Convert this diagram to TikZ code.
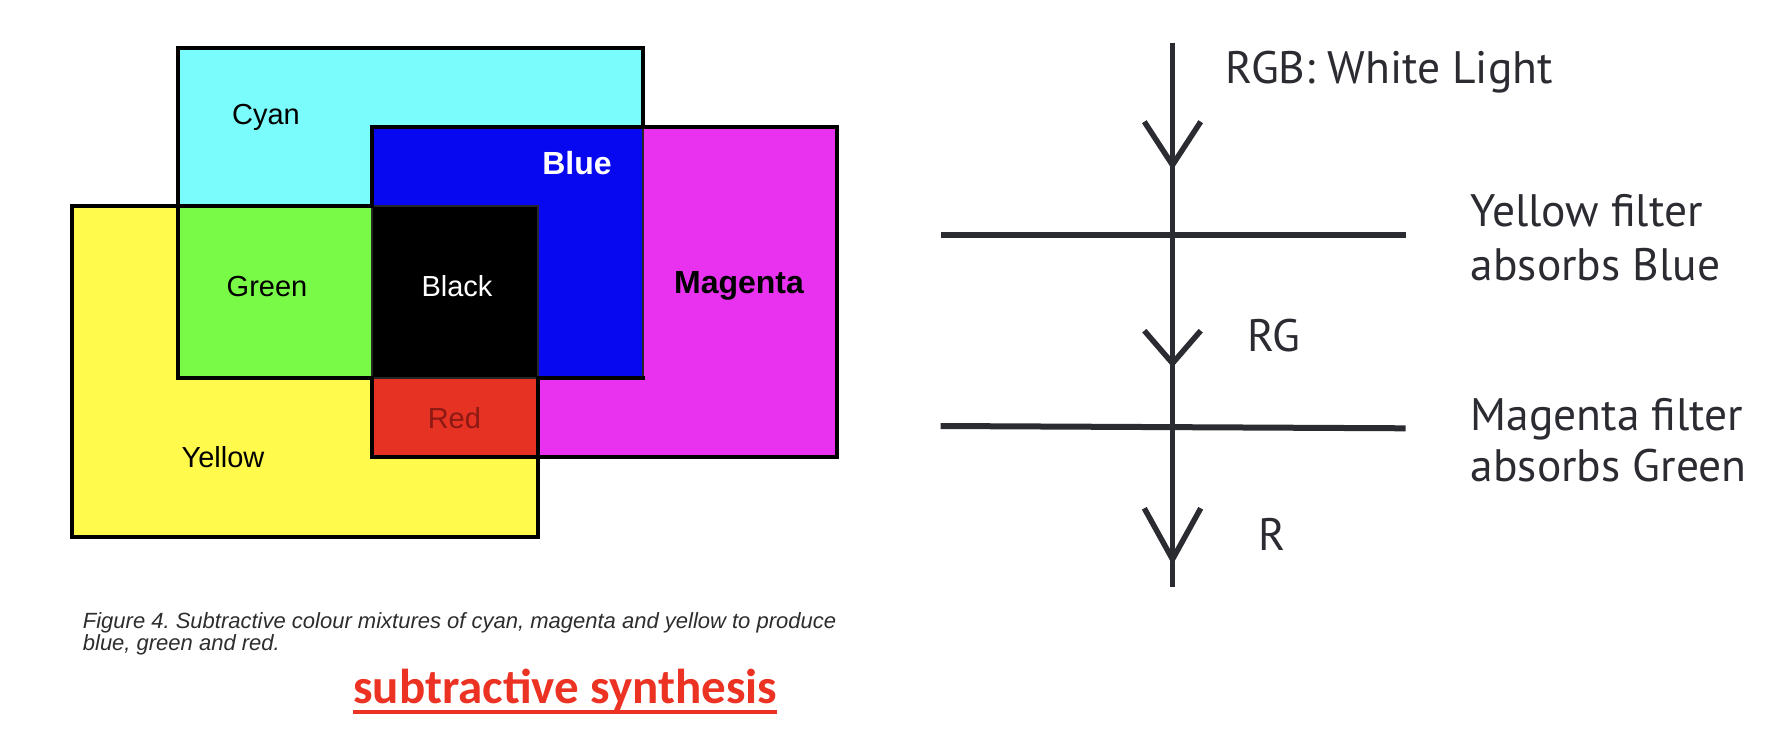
\documentclass[tikz,border=0pt]{standalone}
\usepackage{fontspec}
\setmainfont{Liberation Sans}
\newfontfamily\rfont{PT Sans}
\newfontfamily\sfont{Carlito}
\frenchspacing
\definecolor{cyanf}{RGB}{122,252,252}
\definecolor{bluef}{RGB}{8,8,240}
\definecolor{magf}{RGB}{232,50,240}
\definecolor{yelf}{RGB}{255,250,75}
\definecolor{greenf}{RGB}{120,250,70}
\definecolor{redf}{RGB}{230,50,35}
\definecolor{redtxt}{RGB}{140,25,20}
\definecolor{ink}{RGB}{43,43,50}
\definecolor{captxt}{RGB}{45,45,45}
\definecolor{subred}{RGB}{235,50,35}
\tikzset{
  thickedge/.style={draw=black,line width=4.5,line join=miter,line cap=rect},
  thinedge/.style={draw=black!85,line width=1.6},
  lbl/.style={inner sep=0,anchor=base,font=\fontsize{29}{34}\selectfont},
  blbl/.style={inner sep=0,anchor=base,font=\fontsize{32}{38}\selectfont\bfseries},
  captext/.style={inner sep=0,anchor=base west,text=captxt,font=\fontsize{22}{24}\selectfont\itshape},
  rline/.style={draw=ink,line width=5.5,line join=miter},
  rtxt/.style={inner sep=0,anchor=base west,text=ink,font=\rfont\fontsize{45.5}{50}\selectfont},
}
\begin{document}
\begin{tikzpicture}[x=1pt,y=-1pt]
\useasboundingbox (0,0) rectangle (1772,744);
% fills
\fill[cyanf] (178,48) rectangle (643,378);
\fill[magf] (372,127) rectangle (837,457);
\fill[yelf] (72,206) rectangle (538,537);
\fill[bluef] (372,127) rectangle (643,378);
\fill[greenf] (178,206) rectangle (538,378);
\fill[redf] (372,378) rectangle (538,457);
\fill[black] (372,206) rectangle (538,378);
% thin inner edges
\draw[thinedge] (372,206) rectangle (538,378);
\draw[thinedge] (643,127) -- (643,378);
% thick edges
\draw[thickedge] (643,127) -- (643,48) -- (178,48) -- (178,378) -- (372,378);
\draw[thickedge] (538,378) -- (643,378);
\draw[thickedge] (372,206) -- (372,127) -- (837,127) -- (837,457) -- (372,457) -- (372,378);
\draw[thickedge] (372,206) -- (72,206) -- (72,537) -- (538,537) -- (538,378);
% labels
\node[lbl] (lcyan) at (266,124) {Cyan};
\node[blbl,text=white] (lblue) at (577,174) {Blue};
\node[lbl] (lgreen) at (267,296.7) {Green};
\node[lbl,text=white] (lblack) at (457,296.7) {Black};
\node[blbl] (lmag) at (739,293) {Magenta};
\node[lbl,text=redtxt] (lred) at (454.4,428) {Red};
\node[lbl] (lyel) at (223,467) {Yellow};
% caption
\node[captext] (cap1) at (82.7,628.3) {Figure 4. Subtractive colour mixtures of cyan, magenta and yellow to produce};
\node[captext] (cap2) at (82.7,650.5) {blue, green and red.};
\node[inner sep=0,anchor=base west,text=subred,font=\sfont\bfseries\fontsize{49}{54}\selectfont] (sub) at (353,703.3) {subtractive synthesis};
\draw[subred,line width=3.5] ([yshift=-8.8pt]sub.base west) -- ([yshift=-8.8pt]sub.base east);
% right diagram
\coordinate (top) at (1172.5,42.7);
\coordinate (bot) at (1172.5,586.7);
\draw[rline] (top) -- (bot);
\coordinate (t1) at (1172.5,165);
\coordinate (t2) at (1172.5,363.3);
\coordinate (t3) at (1172.5,559.3);
\draw[rline] (1144.3,121.7) -- (t1) -- (1200.7,121.7);
\draw[rline] (1144.3,330.7) -- (t2) -- (1200.7,330.7);
\draw[rline] (1144.3,508.3) -- (t3) -- (1200.7,508.3);
\coordinate (f1l) at (940.7,235.3);
\coordinate (f1r) at (1405.7,235.3);
\coordinate (f2l) at (940.7,426);
\coordinate (f2r) at (1405.7,428.3);
\draw[rline,line width=6] (f1l) -- (f1r);
\draw[rline,line width=6] (f2l) -- (f2r);
\node[rtxt] (rgb) at (1225.7,83.3) {RGB: White Light};
\node[rtxt] (yf1) at (1470.5,226.7) {Yellow filter};
\node[rtxt] (yf2) at (1470.5,280) {absorbs Blue};
\node[rtxt] (rg) at (1247,351) {RG};
\node[rtxt] (mf1) at (1470.5,430) {Magenta filter};
\node[rtxt] (mf2) at (1470.5,481.7) {absorbs Green};
\node[rtxt] (r) at (1258,550) {R};
\end{tikzpicture}
\end{document}
